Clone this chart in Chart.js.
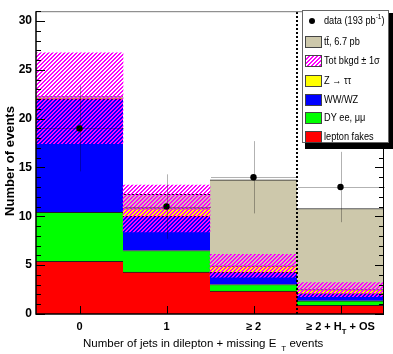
<!DOCTYPE html>
<html>
<head>
<meta charset="utf-8">
<script src="https://cdn.jsdelivr.net/npm/chart.js@4.4.1/dist/chart.umd.min.js"></script>
<style>
  html, body { margin: 0; padding: 0; background: #fff; }
  #wrap { position: relative; width: 393px; height: 354px; }
</style>
</head>
<body>
<div id="wrap"><canvas id="jetsChart"></canvas></div>
<script>
// jet multiplicity bins (_{..} = subscript)
const categories = ["0", "1", "\u2265 2", "\u2265 2 + H_{T} + OS"];

// stacked backgrounds, bottom to top
const leptonFakes = [5.4, 4.3, 2.35, 0.9];
const dyEeMuMu    = [5.0, 2.2, 0.67, 0.45];
const wwWz        = [11.6, 3.5, 1.24, 0.73];
const zTauTau     = [0.1, 0.8, 0.67, 0.42];
const ttbar       = [0.15, 1.45, 8.8, 8.3];

// +-1 sigma on the total background (ttbar not included)
const bkgdSigma = [4.65, 2.4, 1.17, 0.72];

// data, 193 pb-1
const dataCounts = [19, 11, 14, 13];
const dataErr    = [4.4, 3.3, 3.7, 3.6];

const yTicks = [0, 5, 10, 15, 20, 25, 30];

const legendLabels = ["data (193 pb^{-1})", "tt\u0304, 6.7 pb", "Tot bkgd \u00b1 1\u03c3",
  "Z \u2192 \u03c4\u03c4", "WW/WZ", "DY ee, \u03bc\u03bc", "lepton fakes"];

const xTitle = "Number of jets in dilepton + missing E_{T} events";
const yTitle = "Number of events";

const FONT = "'Liberation Sans', Arial, sans-serif";
const TAN = "rgb(205,200,171)";
const MAGENTA = "#ff00ff";

function makeHatch(color) {
  const c = document.createElement("canvas");
  c.width = 4; c.height = 4;
  const g = c.getContext("2d");
  g.fillStyle = color;
  for (let y = 0; y < 4; y++)
    for (let x = 0; x < 4; x++)
      if ((x + y) % 4 < 2) g.fillRect(x, y, 1, 1);
  return g.createPattern(c, "repeat");
}
const hatch = makeHatch(MAGENTA);

// band around the background total
const bkgdBand = leptonFakes.map((v, i) => {
  const tot = v + dyEeMuMu[i] + wwWz[i] + zTauTau[i];
  return [tot - bkgdSigma[i], tot + bkgdSigma[i]];
});

// split "abc_{T} def^{-1}" into parts
function parseRich(str) {
  const out = [];
  const re = /([_^])\{([^}]*)\}/g;
  let last = 0, m;
  while ((m = re.exec(str)) !== null) {
    if (m.index > last) out.push({ t: str.slice(last, m.index) });
    out.push({ t: m[2], sub: m[1] === "_", sup: m[1] === "^" });
    last = re.lastIndex;
  }
  if (last < str.length) out.push({ t: str.slice(last) });
  return out;
}

function richWidth(ctx, parts, size, weight, gap) {
  let w = 0;
  for (const p of parts) {
    const fs = (p.sub || p.sup) ? size * 0.7 : size;
    ctx.font = `${weight} ${fs}px ${FONT}`;
    w += ctx.measureText(p.t).width + ((p.sub || p.sup) ? gap : 0);
  }
  return w;
}

function drawRich(ctx, parts, x, y, size, weight, gap) {
  let cx = x;
  ctx.textBaseline = "middle";
  ctx.textAlign = "left";
  for (const p of parts) {
    const fs = (p.sub || p.sup) ? size * 0.7 : size;
    ctx.font = `${weight} ${fs}px ${FONT}`;
    if (p.sub || p.sup) cx += gap;
    const dy = p.sub ? size * 0.45 : p.sup ? -size * 0.35 : 0;
    ctx.fillText(p.t, cx, y + dy);
    cx += ctx.measureText(p.t).width;
  }
}

const rootStyle = {
  id: "rootStyle",
  beforeDatasetDraw(chart, args) {
    if (args.index !== 0) return;
    const ctx = chart.ctx, x = chart.scales.x, y = chart.scales.y;
    const half = (x.getPixelForValue(1) - x.getPixelForValue(0)) / 2;
    ctx.save();
    ctx.strokeStyle = "rgba(0,0,0,0.3)";
    ctx.lineWidth = 1;
    dataCounts.forEach((d, i) => {
      const cx = Math.round(x.getPixelForValue(i)) + 0.5;
      const py = Math.round(y.getPixelForValue(d)) + 0.5;
      ctx.beginPath();
      ctx.moveTo(cx, y.getPixelForValue(d - dataErr[i]));
      ctx.lineTo(cx, y.getPixelForValue(d + dataErr[i]));
      ctx.moveTo(cx - half, py);
      ctx.lineTo(cx + half, py);
      ctx.stroke();
    });
    ctx.restore();
  },
  afterDraw(chart) {
    const ctx = chart.ctx, a = chart.chartArea;
    const x = chart.scales.x, y = chart.scales.y;
    ctx.save();

    // dotted separator before the last bin
    const sepX = (x.getPixelForValue(2) + x.getPixelForValue(3)) / 2;
    ctx.strokeStyle = "#000";
    ctx.lineWidth = 2;
    ctx.setLineDash([2, 2]);
    ctx.beginPath();
    ctx.moveTo(sepX, a.bottom);
    ctx.lineTo(sepX, a.top);
    ctx.stroke();
    ctx.setLineDash([]);

    // frame
    ctx.lineWidth = 1;
    ctx.strokeStyle = "#777";
    ctx.beginPath();
    ctx.moveTo(a.left, a.top + 0.5);
    ctx.lineTo(a.right, a.top + 0.5);
    ctx.stroke();
    ctx.strokeStyle = "#000";
    ctx.beginPath();
    ctx.moveTo(a.right - 0.5, a.top);
    ctx.lineTo(a.right - 0.5, a.bottom);
    ctx.stroke();
    ctx.lineWidth = 1.5;
    ctx.beginPath();
    ctx.moveTo(a.left, a.top);
    ctx.lineTo(a.left, a.bottom);
    ctx.lineTo(a.right, a.bottom);
    ctx.stroke();

    // inward ticks
    ctx.lineWidth = 1;
    ctx.beginPath();
    for (let v = 0; v <= y.max; v++) {
      const py = Math.round(y.getPixelForValue(v)) + 0.5;
      const len = v % 5 === 0 ? 9 : 5;
      ctx.moveTo(a.left, py); ctx.lineTo(a.left + len, py);
      ctx.moveTo(a.right, py); ctx.lineTo(a.right - len, py);
    }
    categories.forEach((c, i) => {
      const px = Math.round(x.getPixelForValue(i)) + 0.5;
      ctx.moveTo(px, a.bottom); ctx.lineTo(px, a.bottom - 8);
    });
    ctx.stroke();

    // x tick labels
    ctx.fillStyle = "#000";
    categories.forEach((c, i) => {
      const parts = parseRich(c);
      const w = richWidth(ctx, parts, 11, "bold", 0);
      drawRich(ctx, parts, x.getPixelForValue(i) - w / 2, 327, 11, "bold", 0);
    });

    // axis titles
    drawRich(ctx, parseRich(xTitle), 83, 344, 11.5, "normal", 5);
    ctx.save();
    ctx.translate(10, 161);
    ctx.rotate(-Math.PI / 2);
    ctx.font = `bold 13px ${FONT}`;
    ctx.textAlign = "center";
    ctx.textBaseline = "middle";
    ctx.fillText(yTitle, 0, 0);
    ctx.restore();

    // legend box with shadow
    const lx = 302, ly = 10, lw = 87, lh = 133;
    ctx.fillStyle = "#000";
    ctx.fillRect(lx + 3, ly + 3, lw + 3, lh + 3);
    ctx.fillStyle = "#fff";
    ctx.fillRect(lx, ly, lw, lh);
    ctx.strokeStyle = "#666";
    ctx.strokeRect(lx + 0.5, ly + 0.5, lw - 1, lh - 1);

    const rowY = [21, 42, 61, 81, 100, 118, 137];
    const fills = [null, TAN, "hatch", "#ffff00", "#0000ff", "#00ff00", "#ff0000"];
    legendLabels.forEach((lab, i) => {
      const cy = rowY[i];
      if (i === 0) {
        ctx.fillStyle = "#000";
        ctx.beginPath();
        ctx.arc(312, cy, 3, 0, Math.PI * 2);
        ctx.fill();
      } else {
        ctx.fillStyle = fills[i] === "hatch" ? "#fff" : fills[i];
        ctx.fillRect(305, cy - 6, 17, 12);
        if (fills[i] === "hatch") {
          ctx.fillStyle = hatch;
          ctx.fillRect(305, cy - 6, 17, 12);
        }
        ctx.strokeStyle = "#444";
        ctx.strokeRect(305.5, cy - 5.5, 16, 11);
      }
      // condensed text like the original narrow font
      ctx.save();
      ctx.translate(324, cy);
      ctx.scale(0.8, 1);
      ctx.fillStyle = "#000";
      drawRich(ctx, parseRich(lab), 0, 0, 11.5, "normal", 0);
      ctx.restore();
    });

    ctx.restore();
  }
};

const barDefaults = {
  type: "bar",
  grouped: false,
  barPercentage: 1,
  categoryPercentage: 1,
  borderColor: "#222",
  borderWidth: { top: 1, left: 0, right: 0, bottom: 0 },
  borderSkipped: false,
  stack: "bkgd",
  order: 2
};

new Chart(document.getElementById("jetsChart"), {
  data: {
    labels: categories,
    datasets: [
      {
        type: "line",
        label: "data",
        data: dataCounts,
        showLine: false,
        pointRadius: 3.2,
        pointBackgroundColor: "#000",
        pointBorderColor: "#000",
        pointBorderWidth: 0,
        order: 0
      },
      {
        type: "bar",
        label: "Tot bkgd",
        data: bkgdBand,
        grouped: false,
        barPercentage: 1,
        categoryPercentage: 1,
        backgroundColor: hatch,
        borderWidth: 0,
        stack: "band",
        order: 1
      },
      { ...barDefaults, label: "lepton fakes", data: leptonFakes, backgroundColor: "#ff0000" },
      { ...barDefaults, label: "DY ee, mumu", data: dyEeMuMu, backgroundColor: "#00ff00" },
      { ...barDefaults, label: "WW/WZ", data: wwWz, backgroundColor: "#0000ff" },
      { ...barDefaults, label: "Z tautau", data: zTauTau, backgroundColor: "#ffff00" },
      { ...barDefaults, label: "ttbar", data: ttbar, backgroundColor: TAN }
    ]
  },
  options: {
    responsive: true,
    maintainAspectRatio: false,
    animation: false,
    events: [],
    layout: { padding: { top: 6, right: 9, left: 0, bottom: 0 } },
    plugins: {
      legend: { display: false },
      tooltip: { enabled: false }
    },
    scales: {
      x: {
        stacked: true,
        offset: true,
        grid: { display: false, drawTicks: false },
        border: { display: false },
        ticks: { display: false },
        afterFit: s => { s.height = 40; }
      },
      y: {
        stacked: true,
        min: 0,
        max: 31,
        grid: { display: false, drawTicks: false },
        border: { display: false },
        afterBuildTicks: s => { s.ticks = yTicks.map(v => ({ value: v })); },
        ticks: {
          color: "#000",
          padding: 4,
          font: { family: FONT, size: 12, weight: "bold" }
        },
        afterFit: s => { s.width = 36; }
      }
    }
  },
  plugins: [rootStyle]
});
</script>
</body>
</html>
